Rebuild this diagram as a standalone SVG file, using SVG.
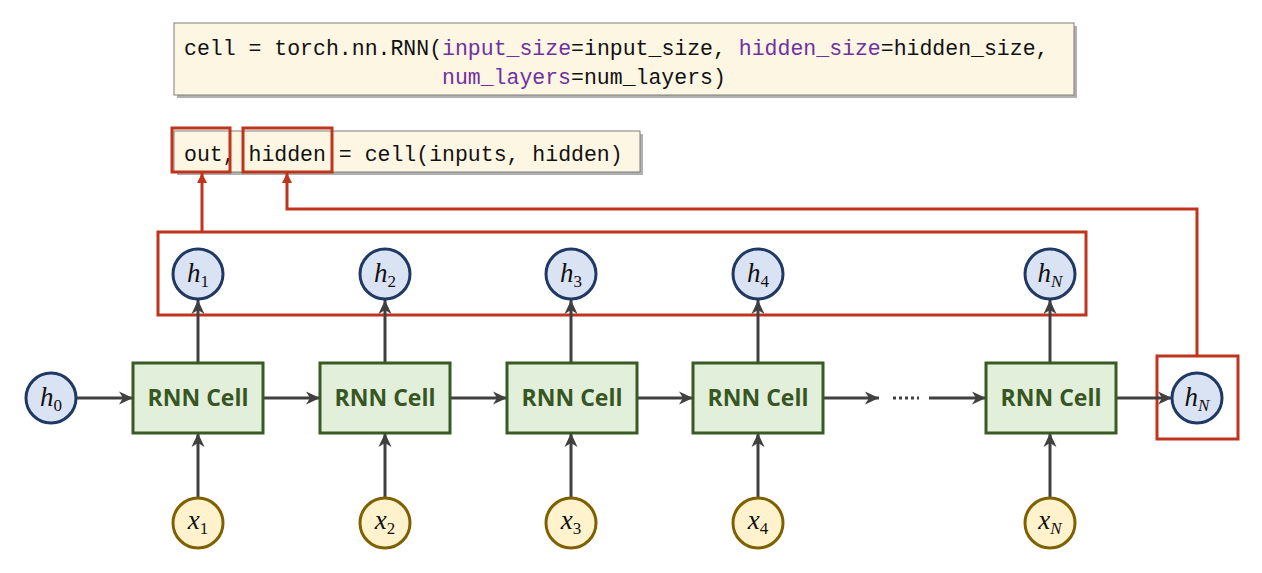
<svg xmlns="http://www.w3.org/2000/svg" width="1262" height="573" viewBox="0 0 1262 573">
<defs>
<marker id="ah" markerUnits="userSpaceOnUse" markerWidth="16" markerHeight="14" refX="14" refY="7" orient="auto">
<path d="M0,0.5 L14,7 L0,13.5 L4,7 Z" fill="#404040"/>
</marker>
<marker id="ahr" markerUnits="userSpaceOnUse" markerWidth="12" markerHeight="12" refX="10" refY="5" orient="auto">
<path d="M0,0 L10,5 L0,10 Z" fill="#c0341d"/>
</marker>
</defs>
<style>
.code{font-family:"Liberation Mono",monospace;font-size:21.5px;fill:#111}
.kw{fill:#7030a0}
.codebox{fill:#fdf6e3;stroke:#7f7f7f;stroke-width:1}
.shadow{fill:#b0b0b0}
.cell rect{fill:#e2efda;stroke:#3a5a23;stroke-width:3}
.cell text{font-family:"Open Sans",sans-serif;font-weight:bold;font-size:23px;fill:#375623;text-anchor:middle}
.h circle{fill:#dae3f3;stroke:#1f3864;stroke-width:3}
.x circle{fill:#fff2cc;stroke:#7f6000;stroke-width:3}
.m{font-family:"Liberation Serif",serif;font-style:italic;font-size:27px;fill:#111;text-anchor:middle}
.sub{font-size:17px}
.up{font-style:normal}
.red{fill:none;stroke:#c0341d;stroke-width:3}
.conn line,.conn path{stroke:#404040;stroke-width:3;fill:none}
.rconn path{stroke:#c0341d;stroke-width:3;fill:none}
</style>

<g id="code1">
<rect class="shadow" x="177" y="26" width="900" height="72"/>
<rect class="codebox" x="174" y="23" width="900" height="72"/>
<text class="code" x="184" y="55">cell = torch.nn.RNN(<tspan class="kw">input_size</tspan>=input_size, <tspan class="kw">hidden_size</tspan>=hidden_size,</text>
<text class="code" x="442" y="84"><tspan class="kw">num_layers</tspan>=num_layers)</text>
</g>

<g id="code2">
<rect class="shadow" x="177" y="134" width="466" height="41"/>
<rect class="codebox" x="174" y="131" width="466" height="41"/>
<text class="code" x="184" y="161">out, hidden = cell(inputs, hidden)</text>
<rect class="red" x="172" y="128" width="58" height="44"/>
<rect class="red" x="243" y="128" width="89" height="44"/>
</g>

<g id="outputs-box"><rect class="red" x="158" y="232" width="928" height="83"/></g>
<g id="hN-box"><rect class="red" x="1157" y="356" width="81" height="83"/></g>

<g class="conn" id="connectors">
<line x1="77" y1="398" x2="133" y2="398" marker-end="url(#ah)"/>
<line x1="263" y1="398" x2="320" y2="398" marker-end="url(#ah)"/>
<line x1="450" y1="398" x2="507" y2="398" marker-end="url(#ah)"/>
<line x1="637" y1="398" x2="693" y2="398" marker-end="url(#ah)"/>
<line x1="823" y1="398" x2="879" y2="398" marker-end="url(#ah)"/>
<line x1="929" y1="398" x2="986" y2="398" marker-end="url(#ah)"/>
<line x1="1116" y1="398" x2="1172" y2="398" marker-end="url(#ah)"/>
<line x1="893" y1="398" x2="919" y2="398" stroke-dasharray="3,3"/>
<line x1="198" y1="363" x2="198" y2="300" marker-end="url(#ah)"/>
<line x1="385" y1="363" x2="385" y2="300" marker-end="url(#ah)"/>
<line x1="571" y1="363" x2="571" y2="300" marker-end="url(#ah)"/>
<line x1="758" y1="363" x2="758" y2="300" marker-end="url(#ah)"/>
<line x1="1050" y1="363" x2="1050" y2="300" marker-end="url(#ah)"/>
<line x1="198" y1="497" x2="198" y2="433" marker-end="url(#ah)"/>
<line x1="385" y1="497" x2="385" y2="433" marker-end="url(#ah)"/>
<line x1="571" y1="497" x2="571" y2="433" marker-end="url(#ah)"/>
<line x1="758" y1="497" x2="758" y2="433" marker-end="url(#ah)"/>
<line x1="1050" y1="497" x2="1050" y2="433" marker-end="url(#ah)"/>
</g>
<g class="rconn" id="red-connectors">
<path d="M202,232 V173" marker-end="url(#ahr)"/>
<path d="M1197,356 V209 H287 V173" marker-end="url(#ahr)"/>
</g>

<g id="cell1" class="cell"><rect x="133" y="363" width="130" height="70"/><text x="198" y="406">RNN Cell</text></g>
<g id="cell2" class="cell"><rect x="320" y="363" width="130" height="70"/><text x="385" y="406">RNN Cell</text></g>
<g id="cell3" class="cell"><rect x="507" y="363" width="130" height="70"/><text x="572" y="406">RNN Cell</text></g>
<g id="cell4" class="cell"><rect x="693" y="363" width="130" height="70"/><text x="758" y="406">RNN Cell</text></g>
<g id="cellN" class="cell"><rect x="986" y="363" width="130" height="70"/><text x="1051" y="406">RNN Cell</text></g>

<g id="h0" class="h"><circle cx="51" cy="398" r="25"/><text class="m" x="51" y="406">h<tspan class="sub up" dy="5">0</tspan></text></g>
<g id="h1" class="h"><circle cx="198" cy="274" r="25"/><text class="m" x="198" y="282">h<tspan class="sub up" dy="5">1</tspan></text></g>
<g id="h2" class="h"><circle cx="385" cy="274" r="25"/><text class="m" x="385" y="282">h<tspan class="sub up" dy="5">2</tspan></text></g>
<g id="h3" class="h"><circle cx="571" cy="274" r="25"/><text class="m" x="571" y="282">h<tspan class="sub up" dy="5">3</tspan></text></g>
<g id="h4" class="h"><circle cx="758" cy="274" r="25"/><text class="m" x="758" y="282">h<tspan class="sub up" dy="5">4</tspan></text></g>
<g id="hNtop" class="h"><circle cx="1050" cy="274" r="25"/><text class="m" x="1050" y="282">h<tspan class="sub" dy="5">N</tspan></text></g>
<g id="hN" class="h"><circle cx="1197" cy="398" r="25"/><text class="m" x="1197" y="406">h<tspan class="sub" dy="5">N</tspan></text></g>

<g id="x1" class="x"><circle cx="198" cy="523" r="25"/><text class="m" x="198" y="529">x<tspan class="sub up" dy="5">1</tspan></text></g>
<g id="x2" class="x"><circle cx="385" cy="523" r="25"/><text class="m" x="385" y="529">x<tspan class="sub up" dy="5">2</tspan></text></g>
<g id="x3" class="x"><circle cx="571" cy="523" r="25"/><text class="m" x="571" y="529">x<tspan class="sub up" dy="5">3</tspan></text></g>
<g id="x4" class="x"><circle cx="758" cy="523" r="25"/><text class="m" x="758" y="529">x<tspan class="sub up" dy="5">4</tspan></text></g>
<g id="xN" class="x"><circle cx="1050" cy="523" r="25"/><text class="m" x="1050" y="529">x<tspan class="sub" dy="5">N</tspan></text></g>
</svg>
